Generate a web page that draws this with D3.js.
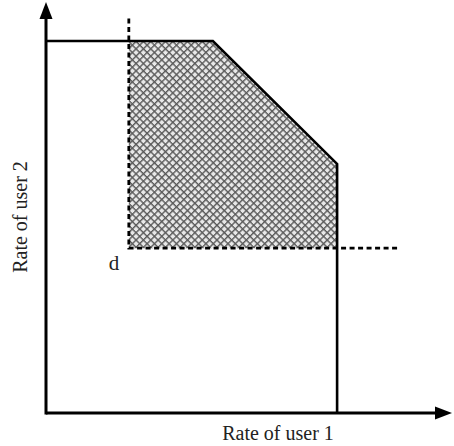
<!DOCTYPE html>
<html>
<head>
<meta charset="utf-8">
<script src="https://cdn.jsdelivr.net/npm/d3@7"></script>
<style>
  html, body { margin: 0; padding: 0; background: #fff; }
  svg { display: block; }
  text { font-family: "Liberation Serif", "Times New Roman", serif; fill: #222; }
</style>
</head>
<body>
<svg id="chart" width="454" height="446"></svg>
<script>
// ---- data (rate units) ----
const axisLabels = ["Rate of user 1", "Rate of user 2"];
const capacityRegion = [[0, 9.05], [4.11, 9.05], [7.17, 6.06], [7.17, 0]];
const dPoint = [2.04, 4.01];
const dLabel = "d";
const dashedVerticalTop = 9.6;
const dashedHorizontalEnd = 8.69;
const axisMax = [10, 10];

const svg = d3.select("#chart");
const x = d3.scaleLinear().domain([0, axisMax[0]]).range([46, 452]);
const y = d3.scaleLinear().domain([0, axisMax[1]]).range([413, 2]);

// hatch pattern
const P = 5.2;
const defs = svg.append("defs");
const pat = defs.append("pattern")
  .attr("id", "hatch").attr("patternUnits", "userSpaceOnUse")
  .attr("width", P).attr("height", P)
  .attr("patternTransform", "rotate(45)");
pat.append("rect").attr("width", P).attr("height", P).attr("fill", "#e8e8e8");
pat.append("line").attr("x1", 0).attr("y1", 0.7).attr("x2", P).attr("y2", 0.7)
  .attr("stroke", "#5a5a5a").attr("stroke-width", 1.4);
pat.append("line").attr("x1", 0.7).attr("y1", 0).attr("x2", 0.7).attr("y2", P)
  .attr("stroke", "#5a5a5a").attr("stroke-width", 1.4);

// shaded area: region above/right of d
const shaded = [
  [dPoint[0], capacityRegion[1][1]],
  capacityRegion[1],
  capacityRegion[2],
  [capacityRegion[3][0], dPoint[1]],
  dPoint
];
const line = d3.line().x(d => x(d[0])).y(d => y(d[1]));
svg.append("path").attr("d", line(shaded) + "Z").attr("fill", "url(#hatch)");

// dashed lines
svg.append("path")
  .attr("d", line([[dPoint[0], dashedVerticalTop], dPoint, [dashedHorizontalEnd, dPoint[1]]]))
  .attr("fill", "none").attr("stroke", "#000").attr("stroke-width", 2.8)
  .attr("stroke-dasharray", "5,3.5");

// capacity region boundary
svg.append("path").attr("d", line(capacityRegion))
  .attr("fill", "none").attr("stroke", "#000").attr("stroke-width", 2.6)
  .attr("stroke-linejoin", "miter");

// axes with arrows
const ox = x(0), oy = y(0);
const ax = x(axisMax[0]), ay = y(axisMax[1]);
const aLen = 17, aHalf = 6.5;
svg.append("line").attr("x1", ox).attr("y1", oy).attr("x2", ax - aLen + 2).attr("y2", oy)
  .attr("stroke", "#000").attr("stroke-width", 3);
svg.append("line").attr("x1", ox).attr("y1", oy + 1.5).attr("x2", ox).attr("y2", ay + aLen - 2)
  .attr("stroke", "#000").attr("stroke-width", 3);
svg.append("path").attr("d", `M${ax},${oy}L${ax - aLen},${oy - aHalf}L${ax - aLen},${oy + aHalf}Z`).attr("fill", "#000");
svg.append("path").attr("d", `M${ox},${ay}L${ox - aHalf},${ay + aLen}L${ox + aHalf},${ay + aLen}Z`).attr("fill", "#000");

// labels
svg.append("text").attr("x", 278).attr("y", 440).attr("text-anchor", "middle")
  .attr("font-size", 20).text(axisLabels[0]);
svg.append("text").attr("transform", "translate(27,217) rotate(-90)").attr("text-anchor", "middle")
  .attr("font-size", 20).text(axisLabels[1]);
svg.append("text").attr("x", x(dPoint[0]) - 20).attr("y", 270)
  .attr("font-size", 21).text(dLabel);
</script>
</body>
</html>
